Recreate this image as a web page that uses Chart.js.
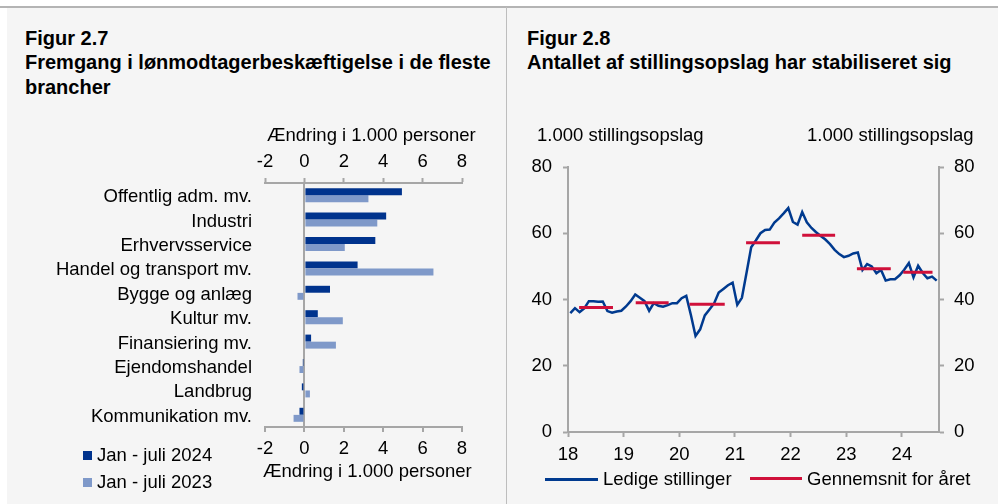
<!DOCTYPE html>
<html><head><meta charset="utf-8">
<script src="https://cdn.jsdelivr.net/npm/chart.js@4.4.1/dist/chart.umd.min.js"></script>
<style>
html,body{margin:0;padding:0;background:#fff;width:998px;height:504px;overflow:hidden;font-family:"Liberation Sans",Arial,sans-serif;color:#000}
.abs{position:absolute}
.title{font-weight:bold;font-size:20px;line-height:24.4px;white-space:nowrap}
.lbl{font-size:18.5px;line-height:18.5px;white-space:nowrap}
canvas{display:block}
</style></head><body>
<div class="abs" style="left:7px;top:7px;width:991px;height:497px;background:#F5F5F5"></div>
<div class="abs" style="left:0;top:6px;width:998px;height:2px;background:#B4B4B4"></div>
<div class="abs" style="left:506px;top:7px;width:1px;height:497px;background:#BDBDBD"></div>

<div class="abs title" style="left:25px;top:26px">Figur 2.7<br>Fremgang i lønmodtagerbeskæftigelse i de fleste<br>brancher</div>
<div class="abs title" style="left:527px;top:26px">Figur 2.8<br>Antallet af stillingsopslag har stabiliseret sig</div>

<div class="abs" style="left:0;top:0;width:507px;height:504px"><canvas id="c1" width="507" height="504"></canvas></div>
<div class="abs" style="left:507px;top:0;width:491px;height:504px"><canvas id="c2" width="491" height="504"></canvas></div>

<div class="abs lbl" style="left:267px;top:126px">Ændring i 1.000 personer</div>
<div class="abs lbl" style="left:263px;top:462px">Ændring i 1.000 personer</div>
<div class="abs lbl" style="left:537px;top:126px">1.000 stillingsopslag</div>
<div class="abs lbl" style="left:807px;top:126px">1.000 stillingsopslag</div>

<div class="abs" style="left:83px;top:451px;width:9px;height:9px;background:#00338D"></div>
<div class="abs lbl" style="left:97px;top:446px">Jan - juli 2024</div>
<div class="abs" style="left:83px;top:478px;width:9px;height:9px;background:#7F99C9"></div>
<div class="abs lbl" style="left:97px;top:473px">Jan - juli 2023</div>

<div class="abs" style="left:545px;top:478px;width:53px;height:3px;background:#003A8F"></div>
<div class="abs lbl" style="left:603px;top:470px">Ledige stillinger</div>
<div class="abs" style="left:750px;top:477px;width:52px;height:3px;background:#D0103A"></div>
<div class="abs lbl" style="left:807px;top:470px">Gennemsnit for året</div>

<script>
// ---------- Figur 2.7 data ----------
const categories = ['Offentlig adm. mv.','Industri','Erhvervsservice','Handel og transport mv.','Bygge og anlæg','Kultur mv.','Finansiering mv.','Ejendomshandel','Landbrug','Kommunikation mv.'];
const change2024 = [4.95, 4.15, 3.6, 2.7, 1.3, 0.68, 0.34, -0.08, -0.13, -0.25];
const change2023 = [3.25, 3.7, 2.05, 6.55, -0.35, 1.95, 1.6, -0.25, 0.28, -0.55];
const changeTicks = [-2, 0, 2, 4, 6, 8];

// ---------- Figur 2.8 data (monthly, Jan 2018 - Aug 2024, 1.000 stillingsopslag) ----------
const vacancyFirstYear = 18;
const vacancies2018 = [35.9, 37.4, 36.2, 37.3, 39.5, 39.5, 39.3, 39.4, 36.5, 36.0, 36.4, 36.6];
const vacancies2019 = [37.9, 39.5, 41.5, 40.5, 39.5, 36.6, 38.9, 38.1, 37.8, 38.3, 38.9, 38.9];
const vacancies2020 = [40.4, 41.1, 35.3, 29.0, 31.0, 35.2, 37.0, 38.8, 42.1, 43.2, 44.3, 45.1];
const vacancies2021 = [38.4, 40.5, 48.1, 55.8, 57.8, 60.0, 61.0, 61.1, 63.2, 64.5, 66.0, 67.6];
const vacancies2022 = [63.4, 62.6, 66.4, 63.3, 61.6, 60.3, 59.2, 58.1, 56.7, 55.0, 53.7, 52.8];
const vacancies2023 = [53.2, 53.9, 54.2, 48.9, 50.7, 50.0, 47.9, 48.9, 45.7, 46.1, 46.1, 47.3];
const vacancies2024 = [49.0, 51.0, 46.7, 50.2, 48.0, 46.4, 46.9, 45.7];
const vacancies = [].concat(vacancies2018, vacancies2019, vacancies2020, vacancies2021, vacancies2022, vacancies2023, vacancies2024);

const avgYears = [18, 19, 20, 21, 22, 23, 24];
const avgValues = [37.6, 39.0, 38.6, 57.1, 59.4, 49.3, 48.2];
const avgFromMonth = [2.4, 2.6, 2.2, 2.4, 2.5, 2.3, 0.3];
const avgToMonth = [9.7, 9.7, 9.8, 9.7, 9.6, 9.6, 6.6];

const yearTicks = [18, 19, 20, 21, 22, 23, 24];
const levelTicks = [0, 20, 40, 60, 80];

// ---------- styles ----------
const DARK = '#00338D', LIGHT = '#7F99C9', BLUE = '#003A8F', RED = '#D0103A', AXIS = '#A6A6A6';
const FONT = {family: '"Liberation Sans", Arial, sans-serif', size: 18.5};
Chart.defaults.color = '#000';
Chart.defaults.font = FONT;

const setTicks = arr => s => { s.ticks = arr.map(v => ({value: v})); };

// ---------- Figur 2.7 ----------
new Chart(document.getElementById('c1'), {
  type: 'bar',
  data: {
    labels: categories,
    datasets: [
      {label: 'Jan - juli 2024', data: change2024, backgroundColor: DARK, xAxisID: 'x', barPercentage: 0.98, categoryPercentage: 0.58},
      {label: 'Jan - juli 2023', data: change2023, backgroundColor: LIGHT, xAxisID: 'x', barPercentage: 0.98, categoryPercentage: 0.58}
    ]
  },
  options: {
    indexAxis: 'y', responsive: false, animation: false, devicePixelRatio: 1,
    layout: {padding: {left: 0, right: 45, top: 140, bottom: 47}},
    plugins: {legend: {display: false}, tooltip: {enabled: false}},
    scales: {
      x: {
        type: 'linear', position: 'bottom', min: -2, max: 8,
        afterBuildTicks: setTicks(changeTicks),
        ticks: {font: FONT, color: '#000', padding: 6, maxRotation: 0, autoSkip: false, callback: v => String(v)},
        grid: {drawOnChartArea: true, color: c => (c.tick && c.tick.value === 0) ? AXIS : 'rgba(0,0,0,0)', lineWidth: 2, tickColor: AXIS, tickLength: 5, tickWidth: 2},
        border: {display: true, color: AXIS, width: 2},
        afterFit: s => { s.height = 30; }
      },
      x2: {
        type: 'linear', position: 'top', min: -2, max: 8,
        afterBuildTicks: setTicks(changeTicks),
        ticks: {font: FONT, color: '#000', padding: 5, maxRotation: 0, autoSkip: false, callback: v => String(v)},
        grid: {drawOnChartArea: false, tickColor: AXIS, tickLength: 5, tickWidth: 2},
        border: {display: true, color: AXIS, width: 2},
        afterFit: s => { s.height = 43; }
      },
      y: {
        type: 'category',
        grid: {display: false, drawTicks: false, tickLength: 0},
        border: {display: false},
        ticks: {font: FONT, color: '#000', padding: 13, autoSkip: false, labelOffset: 2},
        afterFit: s => { s.width = 265; }
      }
    }
  }
});

// ---------- Figur 2.8 ----------
const linePoints = vacancies.map((v, i) => ({x: vacancyFirstYear + (i + 0.5) / 12, y: v}));
const avgPoints = [];
avgYears.forEach((yr, k) => {
  avgPoints.push({x: yr + avgFromMonth[k] / 12, y: avgValues[k]});
  avgPoints.push({x: yr + avgToMonth[k] / 12, y: avgValues[k]});
  avgPoints.push({x: yr + (avgToMonth[k] + 0.1) / 12, y: null});
});

new Chart(document.getElementById('c2'), {
  type: 'line',
  data: {
    datasets: [
      {label: 'Gennemsnit for året', data: avgPoints, borderColor: RED, borderWidth: 3, pointRadius: 0, spanGaps: false, tension: 0, borderCapStyle: 'butt', yAxisID: 'y'},
      {label: 'Ledige stillinger', data: linePoints, borderColor: BLUE, borderWidth: 2.5, pointRadius: 0, tension: 0, yAxisID: 'y'}
    ]
  },
  options: {
    responsive: false, animation: false, devicePixelRatio: 1,
    layout: {padding: {left: 0, right: 0, top: 167, bottom: 32}},
    plugins: {legend: {display: false}, tooltip: {enabled: false}},
    scales: {
      x: {
        type: 'linear', position: 'bottom', min: 18, max: 18 + 80 / 12,
        afterBuildTicks: setTicks(yearTicks),
        ticks: {font: FONT, color: '#000', padding: 7, maxRotation: 0, autoSkip: false, callback: v => String(v)},
        grid: {drawOnChartArea: false, tickColor: AXIS, tickLength: 5, tickWidth: 2},
        border: {display: true, color: AXIS, width: 2},
        afterFit: s => { s.height = 40; }
      },
      y: {
        type: 'linear', position: 'left', min: 0, max: 80,
        afterBuildTicks: setTicks(levelTicks),
        ticks: {font: FONT, color: '#000', padding: 11, autoSkip: false},
        grid: {drawOnChartArea: false, tickColor: AXIS, tickLength: 5, tickWidth: 2},
        border: {display: true, color: AXIS, width: 2},
        afterFit: s => { s.width = 61; }
      },
      y2: {
        type: 'linear', position: 'right', min: 0, max: 80,
        afterBuildTicks: setTicks(levelTicks),
        ticks: {font: FONT, color: '#000', padding: 10, autoSkip: false},
        grid: {drawOnChartArea: false, tickColor: AXIS, tickLength: 5, tickWidth: 2},
        border: {display: true, color: AXIS, width: 2},
        afterFit: s => { s.width = 59; }
      }
    }
  }
});
</script>
</body></html>
